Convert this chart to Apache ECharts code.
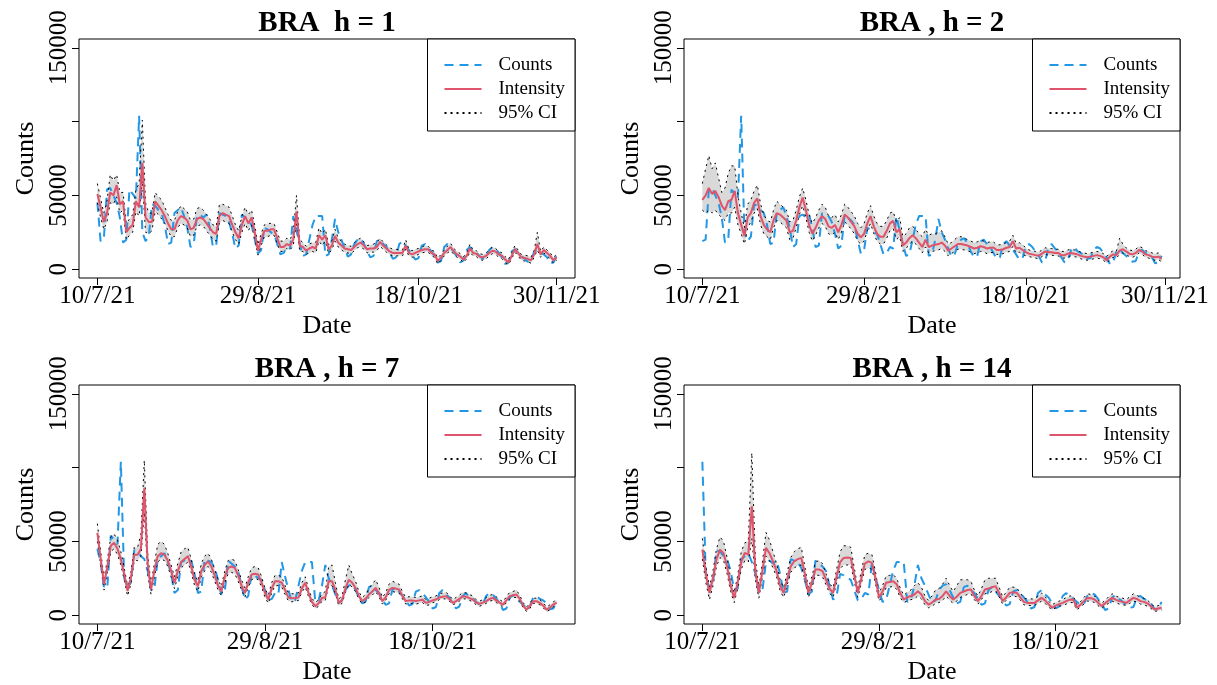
<!DOCTYPE html>
<html>
<head>
<meta charset="utf-8">
<title>BRA forecasts</title>
<script src="https://cdn.jsdelivr.net/npm/echarts@6/dist/echarts.min.js"></script>
<style>
  html, body { margin: 0; padding: 0; background: #ffffff; }
  #chart { width: 1217px; height: 685px; }
</style>
</head>
<body>
<div id="chart"></div>
<script>
// ---- axis ticks ----
const tickDays = [0, 50, 100, 143];
const tickLabels = ['10/7/21', '29/8/21', '18/10/21', '30/11/21'];
const yTickValues = [0, 50000, 100000, 150000];
const yLabelValues = [0, 50000, 150000];

// ---- observed daily counts from 10/7/21 to 30/11/21 ----
const observed = [
  45000, 19000, 20000, 54000, 55000, 50000, 45000,
  35000, 18000, 20000, 54000, 51000, 48000, 104000,
  25000, 19000, 22000, 44000, 43000, 40000, 38000,
  30000, 17000, 18000, 38000, 40000, 42000, 36000,
  28000, 15000, 17000, 36000, 37000, 35000, 37000,
  28000, 15000, 16000, 38000, 37000, 36000, 32000,
  24000, 14000, 16000, 37000, 35000, 33000, 30000,
  20000, 10500, 13000, 28000, 27000, 25000, 24000,
  17000, 10000, 11000, 15000, 14000, 36000, 26000,
  17000, 9000, 10000, 20000, 30000, 36000, 36000,
  36000, 9000, 10000, 20000, 34000, 25000, 20000,
  14000, 8500, 10000, 17000, 20000, 21000, 17000,
  12000, 8000, 9000, 19000, 20000, 17000, 15000,
  11000, 7000, 8000, 17000, 19000, 16000, 13000,
  10000, 6500, 7500, 16000, 17000, 15000, 12000,
  9000, 4500, 5500, 15000, 17000, 14000, 12000,
  8000, 4500, 6000, 13000, 15000, 12000, 11000,
  9000, 7000, 7500, 13000, 15000, 14000, 11000,
  8000, 3500, 4500, 12000, 13500, 11000, 9000,
  7000, 5000, 5500, 12000, 13000, 11000, 10000,
  8000, 4000, 4500, 9000
];

// ---- horizon 1 ----
const intensityH1 = [
  51000, 42000, 32000, 38000, 52000, 50000, 57000, 44000, 46000, 25000,
  28000, 30000, 46000, 42000, 72000, 35000, 32000, 32000, 46000, 43000,
  40000, 36000, 31000, 27000, 27000, 33000, 36000, 35000, 33000, 27000,
  28000, 34000, 35000, 34000, 31000, 28000, 25000, 24000, 36000, 38000,
  37000, 36000, 30000, 25000, 21000, 30000, 36000, 31000, 35000, 25000,
  12500, 20000, 26000, 26000, 27000, 27000, 21000, 15000, 15000, 17000,
  16000, 20000, 39000, 16000, 15000, 12500, 14000, 15000, 14000, 23000,
  20000, 23000, 13500, 16000, 22500, 18000, 16000, 14000, 13500, 13000,
  15000, 17000, 18000, 16000, 13500, 14000, 14000, 15000, 18500, 16000,
  14000, 12000, 11000, 11000, 11000, 11000, 16000, 11000, 10000, 11000,
  12000, 13000, 13500, 13500, 11000, 10000, 5500, 8000, 11000, 13000,
  15000, 12000, 10000, 8500, 6500, 9000, 14000, 11000, 10500, 8500,
  8000, 9000, 11000, 12500, 12000, 10000, 9000, 6500, 4500, 9000,
  13500, 11000, 8000, 7500, 7000, 6000, 10000, 17000, 10000, 13000,
  11000, 9000, 6000, 8000
];
const lowerH1 = [
  45000, 35000, 27000, 32000, 45000, 44000, 49000, 38000, 40000, 20000,
  23000, 25000, 39000, 36000, 60000, 25000, 24000, 26000, 39000, 37000,
  34000, 31000, 26000, 22000, 22000, 28000, 31000, 30000, 28000, 22000,
  23000, 29000, 30000, 29000, 26000, 23000, 20000, 19000, 31000, 33000,
  32000, 31000, 25000, 20000, 17000, 25000, 31000, 26000, 30000, 20000,
  9500, 16000, 22000, 22000, 23000, 23000, 17000, 12000, 12000, 14000,
  13000, 16000, 32000, 12000, 12000, 10000, 11000, 12000, 11000, 19000,
  16000, 19000, 10500, 13000, 19000, 15000, 13000, 11500, 11000, 10500,
  12500, 14500, 15000, 13500, 11000, 11500, 11500, 12500, 15500, 13500,
  11500, 10000, 9000, 9000, 9000, 9000, 13500, 9000, 8000, 9000,
  10000, 11000, 11500, 11500, 9000, 8000, 3500, 6000, 9000, 11000,
  12500, 10000, 8000, 6500, 4500, 7000, 11500, 9000, 8500, 6500,
  6000, 7000, 9000, 10500, 10000, 8000, 7000, 4500, 3000, 7000,
  11500, 9000, 6000, 5500, 5000, 4000, 8000, 13000, 8000, 11000,
  9000, 7000, 4000, 6000
];
const upperH1 = [
  58000, 48000, 38000, 46000, 64000, 60000, 64000, 52000, 52000, 31000,
  34000, 37000, 54000, 58000, 101000, 45000, 38000, 38000, 52000, 49000,
  47000, 42000, 37000, 33000, 33000, 39000, 43000, 41000, 39000, 33000,
  34000, 41000, 42000, 40000, 37000, 34000, 30000, 29000, 44000, 44000,
  43000, 42000, 36000, 30000, 26000, 36000, 42000, 37000, 40000, 30000,
  16500, 24000, 30000, 31000, 31000, 31000, 25000, 19000, 19000, 21000,
  20000, 25000, 50000, 20000, 18000, 15500, 17000, 18000, 18000, 28000,
  24000, 27000, 16500, 19000, 27000, 21000, 19000, 17000, 16000, 15500,
  18000, 20000, 21000, 18500, 16000, 16500, 17000, 18000, 21000, 18500,
  16500, 14500, 13500, 13500, 13000, 13000, 20000, 13500, 12500, 13500,
  14000, 15000, 16000, 15500, 13000, 12000, 7500, 10000, 13000, 15500,
  17500, 14000, 12000, 10500, 8500, 11000, 17000, 13000, 12500, 10500,
  10000, 11000, 13000, 15000, 14000, 12000, 11000, 8500, 6500, 11000,
  16000, 13000, 10000, 9500, 9000, 8000, 12500, 25000, 12000, 15000,
  13000, 11000, 8000, 10000
];

// ---- horizon 2 ----
const intensityH2 = [
  47000, 50000, 55000, 51000, 53000, 49000, 43000, 40000, 46000, 47000,
  53000, 38000, 30000, 22500, 35000, 38000, 45000, 48000, 36000, 30000,
  27000, 25000, 33000, 38000, 37000, 35000, 33000, 25000, 26000, 33000,
  42000, 48500, 40000, 30000, 24000, 28000, 33000, 36000, 34000, 29000,
  28000, 30000, 25000, 30000, 37000, 35000, 32000, 29000, 24000, 21500,
  24000, 31000, 36000, 29000, 24000, 22000, 22000, 26000, 31000, 32700,
  25000, 27000, 16000, 18000, 21000, 23000, 21000, 18000, 15000, 20000,
  15000, 16000, 16500, 17000, 18000, 16000, 12500, 14000, 15500, 17000,
  17000, 16500, 16000, 15000, 14000, 14500, 15500, 15000, 14000, 14500,
  14700, 13000, 13000, 13500, 14500, 15000, 19000, 14000, 14500, 13000,
  11500, 10500, 10000, 9500, 9000, 10500, 12000, 11500, 11500, 11000,
  11000, 9500, 9500, 10500, 11000, 10500, 10000, 9000, 8500, 8000,
  8500, 9000, 9500, 9000, 8000, 6000, 8500, 10000, 9500, 12500,
  13500, 12000, 10500, 10000, 11000, 13000, 12000, 10000, 9500, 8500,
  8000, 8500, 7000
];
const lowerH2 = [
  40000, 38000, 40000, 38000, 40000, 37000, 35000, 33000, 38000, 38000,
  42000, 30000, 24000, 17000, 28000, 32000, 38000, 41000, 30000, 24000,
  22000, 20000, 28000, 33000, 32000, 30000, 28000, 20000, 21000, 28000,
  37000, 43000, 35000, 25000, 19000, 23000, 28000, 31000, 29000, 24000,
  23000, 25000, 20000, 25000, 32000, 30000, 27000, 24000, 19000, 17000,
  19000, 26000, 31000, 24000, 19000, 17000, 17000, 21000, 26000, 27500,
  20000, 22000, 12000, 14000, 17000, 19000, 17000, 14000, 11000, 15000,
  11000, 12000, 12500, 13000, 14000, 12000, 9000, 10500, 12000, 13500,
  13500, 13000, 12500, 11500, 10500, 11000, 12000, 11500, 10500, 11000,
  11500, 10000, 10000, 10500, 11500, 12000, 15500, 11000, 11500, 10000,
  9000, 8500, 8000, 7500, 7000, 8500, 10000, 9500, 9500, 9000,
  9000, 7500, 7500, 8500, 9000, 8500, 8000, 7000, 6500, 6000,
  6500, 7000, 7500, 7000, 6000, 4000, 6500, 8000, 7500, 10000,
  11000, 10000, 8500, 8000, 9000, 11000, 10000, 8000, 7500, 6500,
  6000, 6500, 5000
];
const upperH2 = [
  58000, 68000, 77000, 68000, 72000, 62000, 52000, 55000, 65000, 70000,
  70000, 50000, 38000, 28000, 44000, 47000, 53000, 57000, 44000, 37000,
  33000, 32000, 40000, 46000, 44000, 42000, 40000, 32000, 33000, 40000,
  49000, 55000, 47000, 37000, 31000, 35000, 40000, 44000, 42000, 36000,
  35000, 37000, 32000, 37000, 44000, 42000, 39000, 36000, 31000, 28000,
  31000, 38000, 43000, 36000, 31000, 29000, 29000, 33000, 38000, 39000,
  32000, 35000, 22000, 24000, 28000, 29000, 27000, 24000, 22000, 27000,
  23000, 24000, 24000, 25000, 26000, 22000, 17000, 18000, 20000, 22000,
  22000, 21000, 20000, 19000, 18000, 18500, 19500, 19000, 18000, 18500,
  18500, 16500, 16500, 17000, 18000, 19000, 23000, 17500, 18000, 16500,
  14500, 13000, 12500, 12000, 11500, 13000, 14500, 14000, 14000, 13500,
  13500, 12000, 12000, 13000, 13500, 13000, 12500, 11500, 11000, 10500,
  11000, 11500, 12000, 11500, 10500, 8500, 11000, 12500, 12000, 21000,
  17000, 14500, 13000, 12500, 13500, 15500, 14500, 12500, 12000, 11000,
  10500, 11000, 9500
];

// ---- horizon 7 ----
const intensityH7 = [
  55700, 38000, 21000, 33000, 47000, 49000, 45000, 38000, 28000, 16500,
  25000, 41000, 41000, 45000, 86000, 35000, 17500, 30000, 40000, 42000,
  41000, 37000, 30000, 22000, 30000, 36000, 38000, 40000, 33000, 24000,
  19600, 30000, 34000, 36500, 33000, 27000, 20000, 16200, 26000, 32000,
  33000, 32000, 27000, 20000, 15100, 22000, 27500, 28000, 27500, 22000,
  15000, 10600, 18000, 23000, 23000, 22000, 17000, 12000, 11500, 11700,
  12000, 18000, 22000, 15000, 9000, 6100, 8000, 11700, 12000, 23000,
  23000, 17000, 8300, 10000, 18000, 24000, 22000, 18500, 13000, 9500,
  11000, 14000, 16000, 18500, 15000, 9500, 12000, 17000, 18500, 18000,
  17400, 13000, 9500, 10000, 10000, 9500, 10000, 10500, 8300, 9000,
  10000, 10600, 12000, 12500, 12900, 11000, 8300, 9500, 11000, 12900,
  12500, 11500, 10600, 8500, 7700, 8500, 9500, 11000, 11700, 10000,
  8500, 7200, 10000, 12900, 13500, 14000, 11000, 6500, 3800, 6000,
  9500, 9500, 8300, 6500, 3800, 5000, 7200, 8500
];
const lowerH7 = [
  50000, 34000, 17000, 29000, 43000, 45000, 41000, 34000, 24000, 13000,
  21000, 37000, 37000, 40000, 70000, 28000, 14000, 26000, 36000, 38000,
  37000, 33000, 26000, 18000, 26000, 32000, 34000, 36000, 29000, 20000,
  16000, 26000, 30000, 33000, 29000, 23000, 17000, 13000, 22000, 28000,
  29000, 28000, 23000, 17000, 12000, 19000, 24000, 25000, 24000, 19000,
  12000, 8000, 15000, 20000, 20000, 19000, 14000, 9500, 9000, 9500,
  10000, 15500, 19000, 12500, 7000, 4500, 6000, 9500, 10000, 20000,
  20000, 14500, 6500, 8000, 15500, 21000, 19000, 16000, 11000, 7500,
  9000, 12000, 13500, 16000, 12500, 7500, 10000, 14500, 16000, 15500,
  15000, 11000, 7500, 8000, 8000, 7500, 8000, 8500, 6500, 7000,
  8500, 9000, 10500, 11000, 11000, 9500, 7000, 8000, 9500, 11000,
  11000, 10000, 9000, 7000, 6000, 7000, 8000, 9500, 10000, 8500,
  7000, 5500, 8500, 11000, 12000, 12000, 9500, 5000, 2500, 4500,
  8000, 8000, 7000, 5000, 2500, 3500, 5500, 7000
];
const upperH7 = [
  62000, 43000, 25000, 38000, 53000, 55000, 51000, 43000, 32000, 20000,
  29000, 46000, 46000, 55000, 105000, 42000, 21000, 35000, 48000, 50000,
  48000, 42000, 34000, 26000, 35000, 43000, 45000, 46000, 38000, 28000,
  23000, 35000, 40000, 42000, 38000, 31000, 24000, 19500, 30000, 37000,
  38000, 37000, 31000, 24000, 18500, 26000, 32000, 33000, 32000, 26000,
  18000, 13500, 22000, 27000, 27000, 26000, 20000, 15000, 14500, 14500,
  15000, 22000, 26000, 18000, 11500, 8500, 10500, 14500, 16000, 33000,
  34000, 22000, 11000, 13000, 24000, 34000, 28000, 23000, 16000, 12000,
  14000, 18000, 21000, 24000, 19000, 12000, 15000, 21000, 23000, 22000,
  21000, 16000, 12000, 12500, 12500, 12000, 12500, 13000, 10500, 11500,
  12500, 13000, 14500, 15000, 15500, 13500, 10500, 12000, 13500, 15500,
  15000, 14000, 13000, 10500, 9500, 10500, 12000, 13500, 14000, 12500,
  10500, 9000, 12500, 15500, 16000, 17000, 13500, 8500, 5500, 8000,
  11500, 11500, 10500, 8500, 5500, 7000, 9000, 10500
];

// ---- horizon 14 ----
const intensityH14 = [
  44400, 28000, 15100, 25000, 38000, 44400, 42000, 33000, 20000, 11700,
  22000, 36000, 42200, 41000, 73800, 30000, 15100, 30000, 45600, 42000,
  36500, 30000, 20000, 15100, 24000, 33000, 36500, 38000, 38800, 28000,
  15100, 22000, 30900, 31000, 29800, 24000, 18000, 15100, 26000, 36000,
  38800, 39000, 38800, 27000, 15100, 25000, 35000, 36500, 35400, 25000,
  12000, 16000, 21900, 22500, 23000, 21000, 15000, 10600, 12000, 13000,
  14000, 16200, 14000, 9500, 7200, 8500, 10600, 11000, 13000, 16200,
  13000, 10600, 12500, 15100, 16000, 17000, 17400, 13000, 9500, 13000,
  17400, 18000, 19000, 19600, 15000, 9500, 12000, 15100, 15500, 15100,
  12000, 9000, 8300, 8300, 8300, 10000, 11700, 10000, 7500, 5000,
  6500, 7500, 8300, 9500, 10500, 10600, 5000, 7000, 9500, 11700,
  11500, 10600, 8500, 6100, 8000, 10000, 11700, 10500, 9500, 9000,
  8300, 10000, 11700, 11000, 9500, 9000, 8000, 6000, 3800, 4500,
  5000
];
const lowerH14 = [
  38000, 22000, 10500, 20000, 33000, 39000, 37000, 28000, 16000, 8500,
  18000, 31000, 37000, 36000, 52000, 24000, 11500, 26000, 40000, 37000,
  32000, 26000, 16500, 12000, 20500, 29000, 32000, 33500, 34000, 24000,
  12000, 18500, 27000, 27000, 26000, 20500, 15000, 12000, 22000, 31500,
  34000, 34000, 34000, 23000, 12000, 21500, 31000, 32000, 31000, 21500,
  9500, 13000, 18500, 19000, 19500, 17500, 12000, 8500, 9500, 10500,
  11000, 13000, 11000, 7000, 5000, 6000, 8000, 8500, 10000, 13000,
  10000, 8000, 9500, 12000, 13000, 14000, 14500, 10500, 7500, 10500,
  14500, 15000, 16000, 16500, 12500, 7500, 10000, 12500, 13000, 12500,
  10000, 7000, 6500, 6500, 6500, 8000, 9500, 8000, 5500, 3500,
  5000, 6000, 6500, 7500, 8500, 8500, 3500, 5500, 7500, 9500,
  9500, 8500, 6500, 4500, 6500, 8000, 9500, 8500, 7500, 7000,
  6500, 8000, 9500, 9000, 7500, 7000, 6000, 4500, 2500, 3000,
  3500
];
const upperH14 = [
  52000, 33000, 19000, 30000, 45000, 53000, 50000, 39000, 25000, 15000,
  27000, 43000, 49000, 50000, 110000, 38000, 19000, 36000, 56000, 51000,
  43000, 35000, 24000, 18500, 29000, 39000, 43000, 45000, 46000, 33000,
  18500, 26000, 36000, 37000, 35000, 28000, 21500, 18500, 31000, 43000,
  47000, 47000, 46000, 32000, 18500, 30000, 41000, 42000, 41000, 29500,
  15000, 20000, 26500, 27000, 27500, 25000, 18500, 13500, 15500, 17000,
  20000, 22000, 19000, 13000, 10000, 13000, 17000, 18000, 21000, 25000,
  20000, 16000, 20000, 24000, 24000, 24000, 23000, 17000, 13000, 18000,
  24000, 25000, 25000, 25000, 19000, 12500, 15500, 19000, 19000, 18500,
  15000, 11500, 11000, 11000, 11000, 13000, 15000, 12500, 9500, 7000,
  8500, 9500, 10500, 12000, 13000, 13000, 7000, 9000, 12000, 14500,
  14000, 13000, 10500, 8000, 10000, 12500, 14500, 13000, 12000, 11500,
  10500, 12500, 14500, 13500, 12000, 11500, 10000, 8000, 5500, 6500,
  7000
];

// ---- panels ----
const panels = [
  { h: 1,  title: 'BRA  h = 1',   intensity: intensityH1,  lower: lowerH1,  upper: upperH1 },
  { h: 2,  title: 'BRA , h = 2',  intensity: intensityH2,  lower: lowerH2,  upper: upperH2 },
  { h: 7,  title: 'BRA , h = 7',  intensity: intensityH7,  lower: lowerH7,  upper: upperH7 },
  { h: 14, title: 'BRA , h = 14', intensity: intensityH14, lower: lowerH14, upper: upperH14 }
];

// plot-box placement of the 2 x 2 layout (pixels)
const boxes = [
  { left: 79,  top: 39,  width: 496, height: 239 },
  { left: 684, top: 39,  width: 496, height: 239 },
  { left: 79,  top: 385, width: 496, height: 239 },
  { left: 684, top: 385, width: 496, height: 239 }
];

const SERIF = "'Liberation Serif', 'Times New Roman', Times, serif";
const COL_COUNTS = '#2297E6';
const COL_INTENSITY = '#DF536B';
const COL_BAND = '#d9d9d9';
const CHART_W = 1217;

const option = {
  animation: false,
  backgroundColor: '#ffffff',
  title: [], grid: [], xAxis: [], yAxis: [], legend: [], series: []
};

panels.forEach(function (p, k) {
  const box = boxes[k];
  const n = p.intensity.length;
  // observed counts aligned with the h-step-ahead target dates
  const counts = observed.slice(p.h - 1);
  const xMin = -0.04 * (n - 1);
  const xMax = 1.04 * (n - 1);
  const xTicks = tickDays.filter(function (d) { return d >= xMin && d <= xMax; });

  option.title.push({
    text: p.title,
    left: box.left + box.width / 2,
    top: box.top - 30,
    textAlign: 'center',
    padding: 0,
    textStyle: { fontFamily: SERIF, fontSize: 29, fontWeight: 'bold', color: '#000' }
  });

  option.grid.push({
    left: box.left, top: box.top, width: box.width, height: box.height,
    show: true, borderColor: '#000', borderWidth: 1, backgroundColor: 'transparent',
    containLabel: false, outerBoundsMode: 'none'
  });

  option.xAxis.push({
    type: 'value', gridIndex: k, min: xMin, max: xMax,
    axisLine: { show: false, onZero: false },
    splitLine: { show: false },
    axisTick: { show: true, inside: false, length: 7, customValues: xTicks,
                lineStyle: { color: '#000', width: 1 } },
    axisLabel: {
      customValues: xTicks, margin: 6, fontSize: 25, fontFamily: SERIF, color: '#000',
      formatter: function (v) { return tickLabels[tickDays.indexOf(Math.round(v))]; }
    },
    name: 'Date', nameLocation: 'middle', nameGap: 35,
    nameTextStyle: { fontFamily: SERIF, fontSize: 26, color: '#000' }
  });

  option.yAxis.push({
    type: 'value', gridIndex: k, min: -6000, max: 156000,
    axisLine: { show: false, onZero: false },
    splitLine: { show: false },
    axisTick: { show: true, inside: false, length: 7, customValues: yTickValues,
                lineStyle: { color: '#000', width: 1 } },
    axisLabel: {
      customValues: yLabelValues, rotate: 90, margin: 7,
      fontSize: 25, fontFamily: SERIF, color: '#000',
      formatter: function (v) { return String(v); }
    },
    name: 'Counts', nameLocation: 'middle', nameGap: 40, nameRotate: 90,
    nameTextStyle: { fontFamily: SERIF, fontSize: 26, color: '#000' }
  });

  const lower = p.lower, upper = p.upper;
  // shaded 95% interval
  option.series.push({
    type: 'custom', xAxisIndex: k, yAxisIndex: k, silent: true, z: 1,
    data: [[0, lower[0]]],
    renderItem: function (params, api) {
      const pts = [];
      for (let i = 0; i < upper.length; i++) pts.push(api.coord([i, upper[i]]));
      for (let i = lower.length - 1; i >= 0; i--) pts.push(api.coord([i, lower[i]]));
      return { type: 'polygon', shape: { points: pts }, style: { fill: COL_BAND } };
    }
  });

  const lineBase = { type: 'line', xAxisIndex: k, yAxisIndex: k, symbol: 'none',
                     showSymbol: false, silent: true };

  option.series.push(Object.assign({}, lineBase, {
    name: 'Counts', z: 3,
    data: counts.map(function (v, i) { return [i, v]; }),
    lineStyle: { color: COL_COUNTS, width: 2, type: [9, 6] },
    itemStyle: { color: COL_COUNTS }
  }));
  option.series.push(Object.assign({}, lineBase, {
    name: '95% CI', z: 4,
    data: lower.map(function (v, i) { return [i, v]; }),
    lineStyle: { color: '#000', width: 1, type: [2, 4] },
    itemStyle: { color: '#000' }
  }));
  option.series.push(Object.assign({}, lineBase, {
    name: '95% CI', z: 4,
    data: upper.map(function (v, i) { return [i, v]; }),
    lineStyle: { color: '#000', width: 1, type: [2, 4] },
    itemStyle: { color: '#000' }
  }));
  option.series.push(Object.assign({}, lineBase, {
    name: 'Intensity', z: 5,
    data: p.intensity.map(function (v, i) { return [i, v]; }),
    lineStyle: { color: COL_INTENSITY, width: 2, type: 'solid' },
    itemStyle: { color: COL_INTENSITY }
  }));

  option.legend.push({
    data: ['Counts', 'Intensity', '95% CI'],
    orient: 'vertical',
    right: CHART_W - (box.left + box.width),
    top: box.top,
    selectedMode: false,
    backgroundColor: '#ffffff',
    borderColor: '#000', borderWidth: 1, borderRadius: 0,
    padding: [16, 10, 8, 16],
    itemWidth: 37, itemHeight: 14, itemGap: 4,
    itemStyle: { opacity: 0, borderWidth: 0 },
    textStyle: { fontFamily: SERIF, fontSize: 19, color: '#000', lineHeight: 20,
                 padding: [0, 0, 0, 12] }
  });
});

const chart = echarts.init(document.getElementById('chart'), null, { renderer: 'canvas' });
chart.setOption(option);
</script>
</body>
</html>
